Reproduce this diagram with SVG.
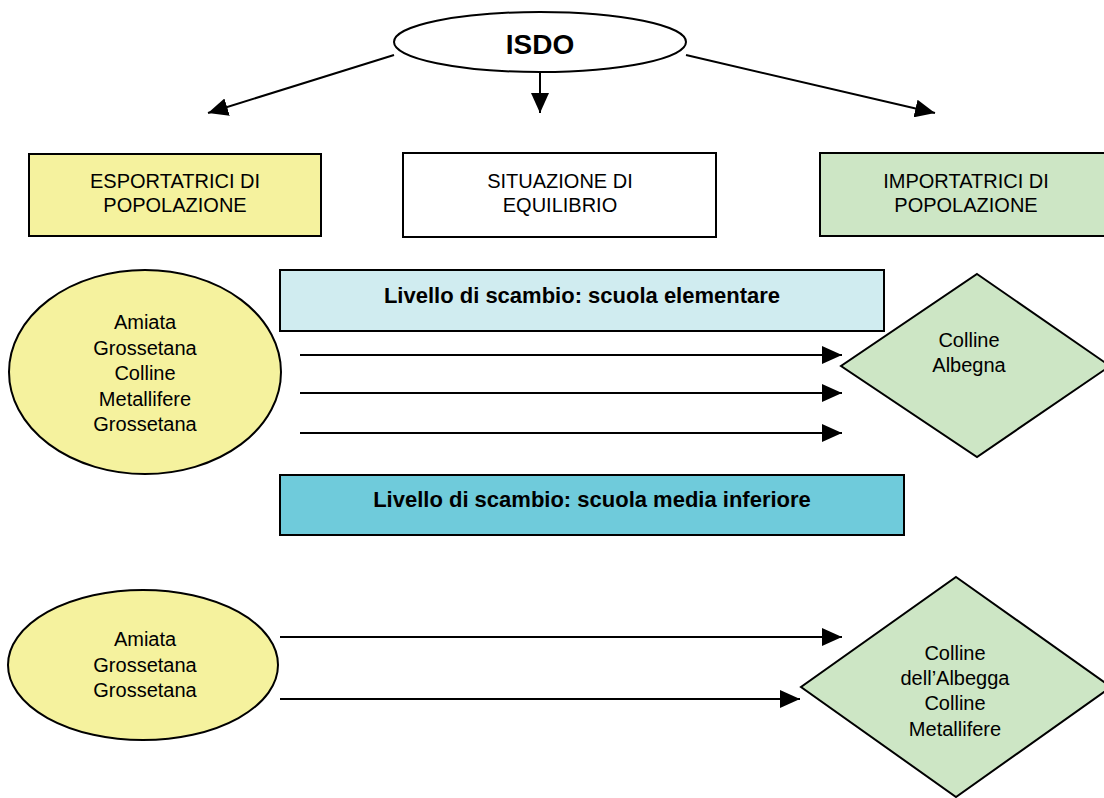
<svg xmlns="http://www.w3.org/2000/svg" width="1104" height="798" viewBox="0 0 1104 798">
<style>
text{font-family:"Liberation Sans",Arial,sans-serif;font-size:20px;fill:#000;text-anchor:middle}
.b{font-weight:bold;font-size:22px}
.s{stroke:#000;stroke-width:2}
.c{stroke:#000;stroke-width:2;fill:none}
</style>
<defs>
<marker id="ah" viewBox="0 0 20 18" refX="20" refY="9" markerWidth="20" markerHeight="18" markerUnits="userSpaceOnUse" orient="auto">
<path d="M0,0L20,9L0,18z" fill="#000"/>
</marker>
</defs>
<rect width="1104" height="798" fill="#fff"/>
<g id="isdo">
<ellipse class="s" cx="540" cy="42" rx="146" ry="30" fill="#fff"/>
<text class="b" x="540" y="54" style="font-size:28px">ISDO</text>
</g>
<g id="esportatrici">
<rect class="s" x="29" y="154" width="292" height="82" fill="#f5f29e"/>
<text x="175" y="188">ESPORTATRICI DI</text>
<text x="175" y="212">POPOLAZIONE</text>
</g>
<g id="equilibrio">
<rect class="s" x="403" y="153" width="313" height="84" fill="#fff"/>
<text x="560" y="188">SITUAZIONE DI</text>
<text x="560" y="212">EQUILIBRIO</text>
</g>
<g id="importatrici">
<rect class="s" x="820" y="153" width="290" height="83" fill="#cde6c5"/>
<text x="966" y="188">IMPORTATRICI DI</text>
<text x="966" y="212">POPOLAZIONE</text>
</g>
<g id="elementare">
<rect class="s" x="280" y="270" width="604" height="61" fill="#d0ecf0"/>
<text class="b" x="582" y="303">Livello di scambio: scuola elementare</text>
</g>
<g id="esp1">
<ellipse class="s" cx="145" cy="372" rx="136" ry="102" fill="#f5f29e"/>
<text x="145" y="329">Amiata</text>
<text x="145" y="355">Grossetana</text>
<text x="145" y="380">Colline</text>
<text x="145" y="406">Metallifere</text>
<text x="145" y="431">Grossetana</text>
</g>
<g id="imp1">
<polygon class="s" points="977,274 1110,366 977,457 841,366" fill="#cde6c5"/>
<text x="969" y="347">Colline</text>
<text x="969" y="372">Albegna</text>
</g>
<g id="media">
<rect class="s" x="280" y="475" width="624" height="60" fill="#6fcbdb"/>
<text class="b" x="592" y="507">Livello di scambio: scuola media inferiore</text>
</g>
<g id="esp2">
<ellipse class="s" cx="143" cy="665" rx="135" ry="75" fill="#f5f29e"/>
<text x="145" y="646">Amiata</text>
<text x="145" y="672">Grossetana</text>
<text x="145" y="697">Grossetana</text>
</g>
<g id="imp2">
<polygon class="s" points="956,577 1111,687 956,797 801,687" fill="#cde6c5"/>
<text x="955" y="660">Colline</text>
<text x="955" y="685">dell’Albegga</text>
<text x="955" y="710">Colline</text>
<text x="955" y="736">Metallifere</text>
</g>
<g id="connectors">
<line class="c" x1="394" y1="55" x2="208" y2="113" marker-end="url(#ah)"/>
<line class="c" x1="540" y1="72" x2="540" y2="113" marker-end="url(#ah)"/>
<line class="c" x1="686" y1="55" x2="935" y2="113" marker-end="url(#ah)"/>
<line class="c" x1="300" y1="355" x2="842" y2="355" marker-end="url(#ah)"/>
<line class="c" x1="300" y1="393" x2="842" y2="393" marker-end="url(#ah)"/>
<line class="c" x1="300" y1="433" x2="842" y2="433" marker-end="url(#ah)"/>
<line class="c" x1="280" y1="637" x2="842" y2="637" marker-end="url(#ah)"/>
<line class="c" x1="280" y1="699" x2="800" y2="699" marker-end="url(#ah)"/>
</g>
</svg>
